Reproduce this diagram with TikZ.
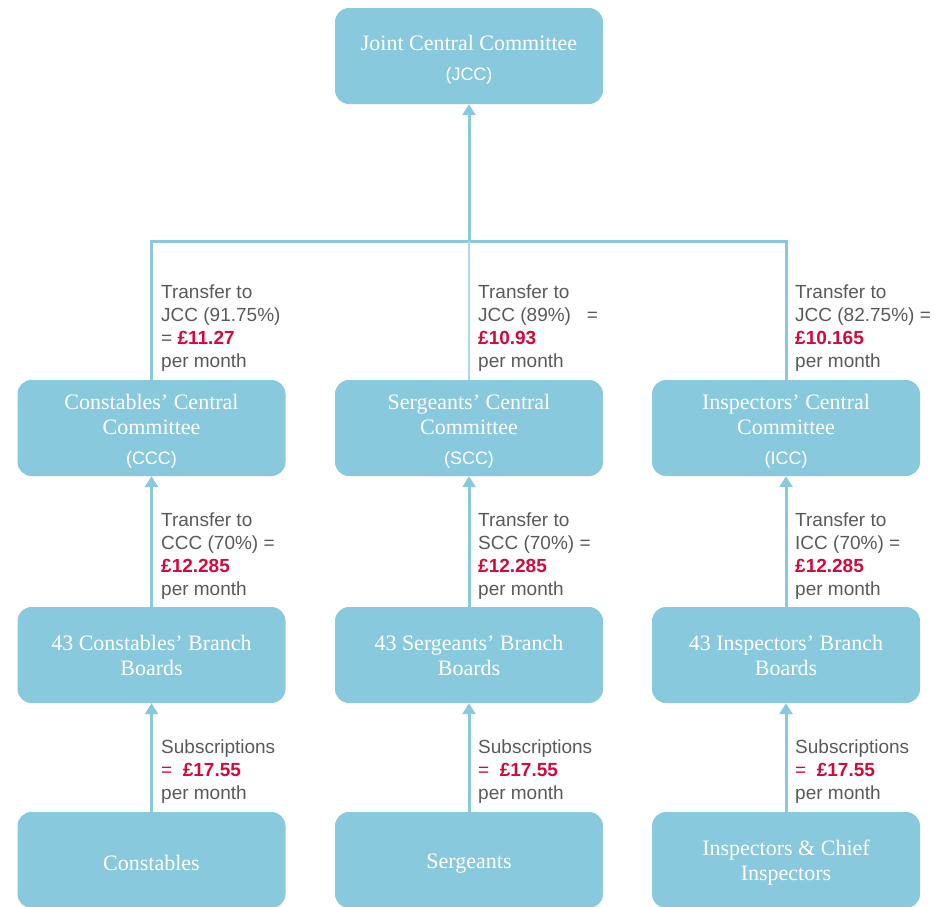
\documentclass[tikz,border=0pt]{standalone}
\usepackage{fontspec}
\setmainfont{Liberation Serif}
\setsansfont{Liberation Sans}
\usetikzlibrary{arrows.meta}
\definecolor{boxblue}{HTML}{88C9DD}
\definecolor{labelgray}{HTML}{595959}
\definecolor{amountred}{HTML}{D20A3C}
\newcommand{\abbr}[1]{{\sffamily\fontsize{18}{20}\selectfont #1}}
\newcommand{\amount}[1]{\textbf{\color{amountred}#1}}
% invisible strut that pushes a box's text a little lower
\newcommand{\lift}[1]{\rule{0pt}{#1}}

\begin{document}
\begin{tikzpicture}[x=1pt,y=-1pt,
  box/.style={rectangle, rounded corners=14pt, fill=boxblue, minimum width=268pt,
    minimum height=96pt, inner sep=0pt, text=white, align=center,
    font=\fontsize{22}{25}\selectfont},
  link/.style={draw=boxblue, line width=3pt},
  thinlink/.style={draw=boxblue!70, line width=1.5pt},
  up/.style={link, -{Triangle[width=13pt,length=11pt]}},
  note/.style={anchor=north west, align=left, text=labelgray, inner sep=0pt,
    font=\sffamily\fontsize{19}{22.7}\selectfont},
]
\useasboundingbox (0,0) rectangle (946,906);

% committees and boards
\node[box] (jcc) at (469,56) {\lift{23pt}Joint Central Committee\\[5pt]\abbr{(JCC)}};

\node[box] (ccc) at (151.5,428) {\lift{21pt}Constables’ Central\\Committee\\[5pt]\abbr{(CCC)}};
\node[box] (scc) at (469,428) {\lift{21pt}Sergeants’ Central\\Committee\\[5pt]\abbr{(SCC)}};
\node[box] (icc) at (786,428) {\lift{21pt}Inspectors’ Central\\Committee\\[5pt]\abbr{(ICC)}};

\node[box] (cbb) at (151.5,655) {43 Constables’ Branch\\Boards};
\node[box] (sbb) at (469,655) {43 Sergeants’ Branch\\Boards};
\node[box] (ibb) at (786,655) {43 Inspectors’ Branch\\Boards};

\node[box] (con) at (151.5,860) {\lift{21pt}Constables};
\node[box] (ser) at (469,860) {\lift{21pt}Sergeants};
\node[box] (ins) at (786,860) {\lift{21pt}Inspectors \& Chief\\Inspectors};

% transfers to the joint committee
\coordinate (hub) at (469,241);
\draw[link] (ccc.north) |- (icc.north |- hub) -- (icc.north);
\draw[thinlink] (scc.north) -- (hub);
\draw[up] (hub) -- (jcc.south);

% branch boards to central committees
\draw[up] (cbb.north) -- (ccc.south);
\draw[up] (sbb.north) -- (scc.south);
\draw[up] (ibb.north) -- (icc.south);

% members to branch boards
\draw[up] (con.north) -- (cbb.south);
\draw[up] (ser.north) -- (sbb.south);
\draw[up] (ins.north) -- (ibb.south);

% amounts
\node[note] (n1) at (161,285) {Transfer to\\JCC (91.75\%)\\= \amount{£11.27}\\per month};
\node[note] (n2) at (478,285) {Transfer to\\JCC (89\%)\ \ \ =\\\amount{£10.93}\\per month};
\node[note] (n3) at (795,285) {Transfer to\\JCC (82.75\%) =\\\amount{£10.165}\\per month};

\node[note] (m1) at (161,513) {Transfer to\\CCC (70\%) =\\\amount{£12.285}\\per month};
\node[note] (m2) at (478,513) {Transfer to\\SCC (70\%) =\\\amount{£12.285}\\per month};
\node[note] (m3) at (795,513) {Transfer to\\ICC (70\%) =\\\amount{£12.285}\\per month};

\node[note] (s1) at (161,740) {Subscriptions\\{\color{amountred}=\ \ \amount{£17.55}}\\per month};
\node[note] (s2) at (478,740) {Subscriptions\\{\color{amountred}=\ \ \amount{£17.55}}\\per month};
\node[note] (s3) at (795,740) {Subscriptions\\{\color{amountred}=\ \ \amount{£17.55}}\\per month};
\end{tikzpicture}
\end{document}
